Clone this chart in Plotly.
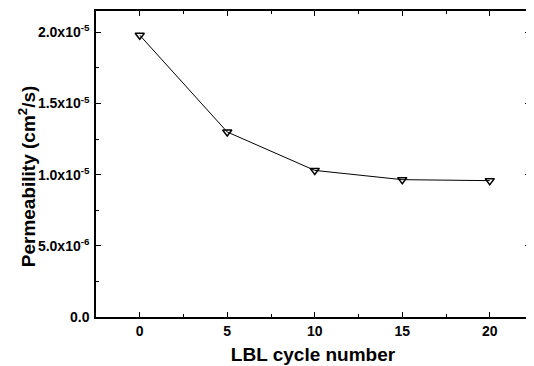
import plotly.graph_objects as go

cycles = [0, 5, 10, 15, 20]
permeability = [1.98e-5, 1.30e-5, 1.03e-5, 0.965e-5, 0.958e-5]

ytick_vals = [0, 5e-6, 1e-5, 1.5e-5, 2e-5]
ytick_text = ["0.0", "5.0x10<sup>-6</sup>", "1.0x10<sup>-5</sup>", "1.5x10<sup>-5</sup>", "2.0x10<sup>-5</sup>"]
xtick_vals = [0, 5, 10, 15, 20]

fig = go.Figure()
fig.add_trace(go.Scatter(
    x=cycles, y=permeability, mode="lines+markers",
    line=dict(color="black", width=1),
    marker=dict(symbol="triangle-down-open", size=8, color="black", line=dict(width=1.5, color="black")),
    showlegend=False,
))

font = dict(family="Liberation Sans, Arial, sans-serif", color="black")
tickfont = dict(size=14, family="Liberation Sans, Arial", color="black", weight="bold")
fig.update_layout(
    width=526, height=358,
    margin=dict(l=88, r=4, t=3, b=49),
    paper_bgcolor="white", plot_bgcolor="white",
    font=font,
)
fig.update_xaxes(
    range=[-2.5, 22.3], tickvals=xtick_vals, automargin=False,
    ticks="inside", ticklen=5, tickwidth=1, tickcolor="black",
    minor=dict(ticks="inside", ticklen=3, dtick=2.5, tickcolor="black"),
    showline=True, linecolor="black", linewidth=1.5, mirror="ticks",
    showgrid=False, zeroline=False,
    tickfont=tickfont,
    title=dict(text="<b>LBL cycle number</b>", font=dict(size=19), standoff=10),
)
fig.update_yaxes(
    range=[0, 2.15e-5], tickvals=ytick_vals, ticktext=ytick_text, automargin=False,
    ticks="inside", ticklen=5, tickwidth=1, tickcolor="black",
    minor=dict(ticks="inside", ticklen=3, dtick=2.5e-6, tickcolor="black"),
    showline=True, linecolor="black", linewidth=1.5, mirror="ticks",
    showgrid=False, zeroline=False,
    tickfont=tickfont, ticklabelstandoff=2,
)
fig.add_annotation(
    text="<b>Permeability (cm<sup>2</sup>/s)</b>", textangle=-90,
    xref="paper", yref="paper", x=-0.159, y=0.46,
    xanchor="center", yanchor="middle", showarrow=False,
    font=dict(size=19, family="Liberation Sans, Arial", color="black"),
)
fig.write_html("out.html")
